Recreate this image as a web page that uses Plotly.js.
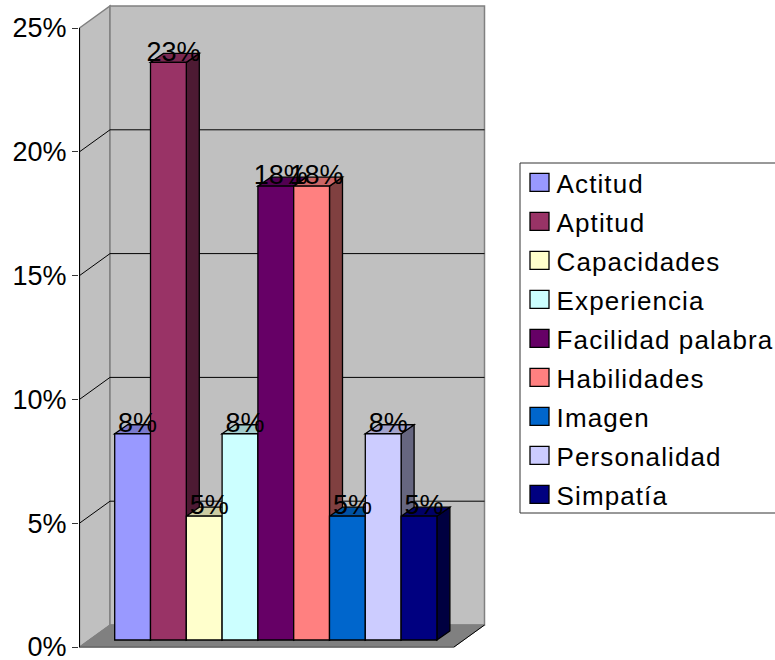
<!DOCTYPE html>
<html>
<head>
<meta charset="utf-8">
<script src="https://cdn.plot.ly/plotly-3.0.1.min.js"></script>
<style>
html, body { margin: 0; padding: 0; background: #fff; }
#chart { width: 775px; height: 660px; }
.legendtext { letter-spacing: 1.1px; }
/* Larger legend swatches, as on the original spreadsheet chart */
.legend .legendpoints path { d: path("M12.4,9H-6.6V-9H12.4Z"); }
</style>
</head>
<body>
<div id="chart"></div>
<script>
// Share of mentions per attribute (14/60, 11/60 ... of all answers)
const categories = ['Actitud', 'Aptitud', 'Capacidades', 'Experiencia', 'Facilidad palabra', 'Habilidades', 'Imagen', 'Personalidad', 'Simpatía'];
const shares = [8.33, 23.33, 5, 8.33, 18.33, 18.33, 5, 8.33, 5];
const valueLabels = ['8%', '23%', '5%', '8%', '18%', '18%', '5%', '8%', '5%'];
const barColors = ['#9999FF', '#993366', '#FFFFCC', '#CCFFFF', '#660066', '#FF8080', '#0066CC', '#CCCCFF', '#000080'];
const axisTicks = [0, 5, 10, 15, 20, 25];
const axisTickLabels = ['0%', '5%', '10%', '15%', '20%', '25%'];

// Scale of the drawing: pixels per bar slot and per percentage point
const PX_PER_SLOT = 35.8;
const PX_PER_PCT = 24.76;
const FIRST_BAR_PX = 132.6;
const AXIS_PX = 79.5;
const ZERO_PX = 647;
const PLOT_LEFT = 79;

const xPx = px => px / PX_PER_SLOT;
const yPx = px => px / PX_PER_PCT;
const xAt = px => (px - FIRST_BAR_PX) / PX_PER_SLOT;

// Box perspective: walls recede by this much, bars stand part way into the floor
const wallDx = xPx(30.5), wallDy = yPx(22);
const floorSpan = xPx(374.5);
const barLift = yPx(7);
const barDx = xPx(13), barDy = yPx(9);
const wallLeft = xAt(AXIS_PX);

function shade(hex, k) {
  const n = parseInt(hex.slice(1), 16);
  const c = [n >> 16, (n >> 8) & 255, n & 255].map(v => Math.round(v * k));
  return `rgb(${c[0]},${c[1]},${c[2]})`;
}
function poly(points, fill, line, width) {
  return {
    type: 'path', xref: 'x', yref: 'y', layer: 'below',
    path: 'M' + points.map(p => p[0] + ',' + p[1]).join('L') + 'Z',
    fillcolor: fill, line: { color: line, width: width === undefined ? 1 : width }
  };
}
function seg(x0, y0, x1, y1, color, width) {
  return { type: 'line', xref: 'x', yref: 'y', layer: 'below', x0, y0, x1, y1, line: { color, width: width || 1 } };
}

const shapes = [];
const axisTop = axisTicks[axisTicks.length - 1];
const backL = wallLeft + wallDx, backR = backL + floorSpan;

// Side wall, back wall and floor
shapes.push(poly([[wallLeft, 0], [backL, wallDy], [backL, axisTop + wallDy], [wallLeft, axisTop]], '#C0C0C0', '#808080', 1.5));
shapes.push(poly([[backL, wallDy], [backR, wallDy], [backR, axisTop + wallDy], [backL, axisTop + wallDy]], '#C0C0C0', '#808080', 1.5));
shapes.push(poly([[wallLeft, 0], [backL, wallDy], [backR, wallDy], [wallLeft + floorSpan, 0]], '#808080', '#808080', 1));
shapes.push(seg(wallLeft + floorSpan, 0, backR, wallDy, '#000000', 1));
shapes.push(seg(wallLeft, 0, wallLeft + floorSpan, 0, '#666666', 1.5));

// Grid lines run along the side wall and across the back wall
axisTicks.slice(1, -1).forEach(t => {
  shapes.push(seg(wallLeft, t, backL, t + wallDy, '#000000', 1));
  shapes.push(seg(backL, t + wallDy, backR, t + wallDy, '#000000', 1));
});
shapes.push(seg(wallLeft, 0, wallLeft, axisTop, '#000000', 1));

// Depth faces of each bar, left to right so nearer bars overlap correctly
shares.forEach((v, i) => {
  const r = i + 0.5, l = i - 0.5, h = v + barLift;
  shapes.push(poly([[r, barLift], [r + barDx, barLift + barDy], [r + barDx, h + barDy], [r, h]], shade(barColors[i], 0.5), '#000000', 1.3));
  shapes.push(poly([[l, h], [l + barDx, h + barDy], [r + barDx, h + barDy], [r, h]], shade(barColors[i], 0.8), '#000000', 1.3));
});

// Legend frame, open towards the right edge of the page
const plotW = 775 - PLOT_LEFT;
const paperX = px => (px - PLOT_LEFT) / plotW;
shapes.push({
  type: 'rect', xref: 'paper', yref: 'paper', layer: 'below',
  x0: paperX(520), x1: paperX(790), y0: 1 - 513 / 660, y1: 1 - 163 / 660,
  fillcolor: '#FFFFFF', line: { color: '#333333', width: 1 }
});

const traces = categories.map((name, i) => ({
  type: 'bar',
  name,
  legendgroup: name,
  x: [i],
  y: [shares[i]],
  base: [barLift],
  width: 1,
  marker: { color: barColors[i], line: { color: '#000000', width: 1.3 } },
  hoverinfo: 'skip'
}));

traces.push({
  type: 'scatter',
  mode: 'text',
  x: shares.map((v, i) => i + xPx(5)),
  y: shares.map(v => v + barLift + yPx(8.5)),
  text: valueLabels,
  textposition: 'middle center',
  textfont: { family: 'Liberation Sans, Arial, sans-serif', size: 27, color: '#000000' },
  cliponaxis: false,
  showlegend: false,
  hoverinfo: 'skip'
});

const layout = {
  width: 775,
  height: 660,
  margin: { l: PLOT_LEFT, r: 0, t: 0, b: 0, autoexpand: false },
  paper_bgcolor: '#FFFFFF',
  plot_bgcolor: '#FFFFFF',
  font: { family: 'Liberation Sans, Arial, sans-serif', color: '#000000' },
  barmode: 'overlay',
  showlegend: true,
  legend: {
    x: paperX(516.6), xanchor: 'left',
    y: 1 - 159 / 660, yanchor: 'top',
    font: { size: 26, color: '#000000' },
    bgcolor: 'rgba(0,0,0,0)',
    tracegroupgap: 2.2,
    itemclick: false,
    itemdoubleclick: false
  },
  xaxis: {
    range: [xAt(PLOT_LEFT), xAt(775)],
    visible: false,
    fixedrange: true
  },
  yaxis: {
    range: [(ZERO_PX - 660) / PX_PER_PCT, ZERO_PX / PX_PER_PCT],
    tickmode: 'array',
    tickvals: axisTicks,
    ticktext: axisTickLabels,
    ticks: 'outside',
    ticklen: 6,
    tickcolor: '#333333',
    tickwidth: 1,
    showgrid: false,
    zeroline: false,
    showline: false,
    ticklabeloverflow: 'allow',
    tickfont: { size: 27, color: '#000000' },
    fixedrange: true
  },
  shapes
};

Plotly.newPlot('chart', traces, layout, { displayModeBar: false });
</script>
</body>
</html>
